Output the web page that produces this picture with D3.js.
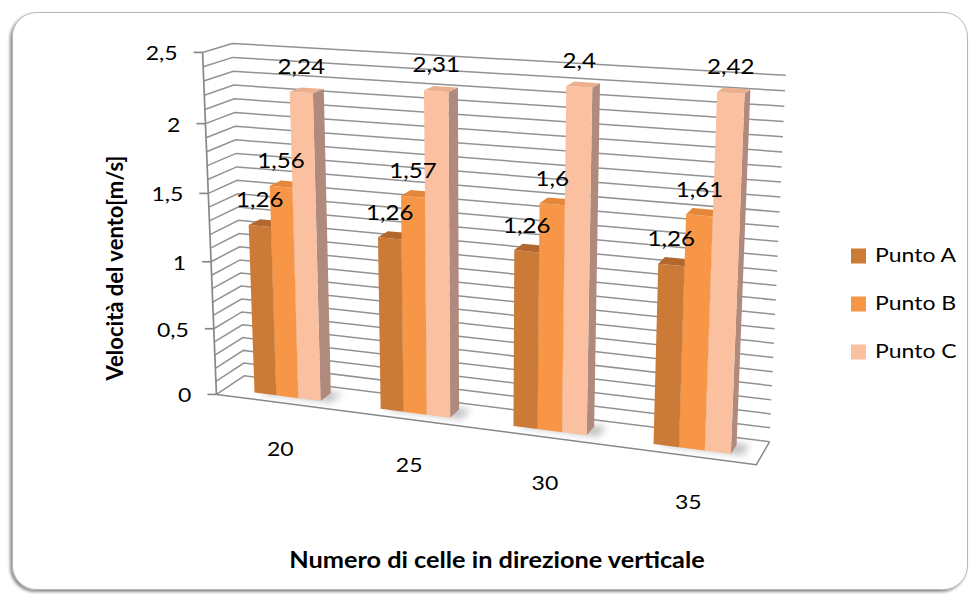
<!DOCTYPE html>
<html>
<head>
<meta charset="utf-8">
<script src="https://cdn.jsdelivr.net/npm/d3@7"></script>
<style>
  body { margin: 0; background: #ffffff; }
  svg { display: block; }
  text { font-family: Lato, "Open Sans", sans-serif; fill: #000; }
</style>
</head>
<body>
<svg id="chart" width="974" height="595"></svg>
<script>
// ---- data ----
const categories = ["20", "25", "30", "35"];
const seriesNames = ["Punto A", "Punto B", "Punto C"];
const puntoA = [1.26, 1.26, 1.26, 1.26];
const puntoB = [1.56, 1.57, 1.6, 1.61];
const puntoC = [2.24, 2.31, 2.4, 2.42];
const yTicks = [0, 0.5, 1, 1.5, 2, 2.5];
const yTitle = "Velocità del vento[m/s]";
const xTitle = "Numero di celle in direzione verticale";

const seriesValues = [puntoA, puntoB, puntoC];
const faceColors = {
  front: ["#CC7A38", "#F79646", "#FAC0A0"],
  top:   ["#B4672C", "#E5873A", "#EDB08F"],
  side:  ["#9C5E2E", "#B97A4C", "#B08A7C"]
};

// Italian number format: decimal comma, no trailing zeros
const italian = d3.formatLocale({ decimal: ",", thousands: ".", grouping: [3], currency: ["", " €"] });
const fmt = italian.format("~g");

// horizontal text is drawn slightly widened, like the rest of the chart
const TEXT_STRETCH = 1.15;
function hText(g, x, y, str, size, anchor, weight) {
  return g.append("text")
    .attr("transform", `translate(${x},${y}) scale(${TEXT_STRETCH},1)`)
    .attr("text-anchor", anchor || "start")
    .attr("dominant-baseline", "middle")
    .attr("font-size", size)
    .attr("font-weight", weight || "normal")
    .text(str);
}

// ---- 3D box (world units) and camera ----
const L = 580, H = 366, D = 64;
const view = { yaw: 20, pitch: 15, focal: 1800, distance: 1800, cx: 483, cy: 245 };
const ry = view.yaw * Math.PI / 180, rx = view.pitch * Math.PI / 180;

function project(X, Y, Z) {
  const xp = X * Math.cos(ry) - Z * Math.sin(ry);
  const zp = -X * Math.sin(ry) - Z * Math.cos(ry);
  const yc = Y * Math.cos(rx) + zp * Math.sin(rx);
  const zc = -Y * Math.sin(rx) + zp * Math.cos(rx) + view.distance;
  return [view.cx + view.focal * xp / zc, view.cy - view.focal * yc / zc];
}

const x = d3.scaleBand().domain(categories).range([-L / 2, L / 2])
  .paddingInner(0.47).paddingOuter(0.22).align(0.55);
const xs = d3.scaleBand().domain(seriesNames).range([0, x.bandwidth()]);
const y = d3.scaleLinear().domain([0, 2.5]).range([-H / 2, H / 2]);
const z = d3.scaleLinear().domain([0, 1]).range([-D / 2, D / 2]); // 0 = back wall, 1 = front edge

const svg = d3.select("#chart");
const defs = svg.append("defs");
defs.append("filter").attr("id", "frameShadow").attr("x", "-5%").attr("y", "-5%").attr("width", "110%").attr("height", "110%")
  .append("feDropShadow").attr("dx", -2).attr("dy", 2).attr("stdDeviation", 1.6)
  .attr("flood-color", "#000").attr("flood-opacity", 0.45);
defs.append("filter").attr("id", "floorShadow").attr("x", "-50%").attr("y", "-50%").attr("width", "200%").attr("height", "200%")
  .append("feGaussianBlur").attr("stdDeviation", 3.5);

// chart frame
svg.append("rect")
  .attr("x", 12.5).attr("y", 12.5).attr("width", 955).attr("height", 577)
  .attr("rx", 24).attr("ry", 24)
  .attr("fill", "#fff").attr("stroke", "#b5b5b5").attr("stroke-width", 1)
  .attr("filter", "url(#frameShadow)");

const line = d3.line();
const poly = pts => line(pts.map(p => project(...p))) + "Z";

// ---- walls: gridlines on the side wall and back wall ----
const grid = svg.append("g").attr("fill", "none").attr("stroke", "#929292").attr("stroke-width", 1.5);
y.ticks(25).forEach(v => {
  grid.append("path").attr("d", line([
    project(-L / 2, y(v), z(1)),
    project(-L / 2, y(v), z(0)),
    project(L / 2, y(v), z(0))
  ]));
});

// floor outline (front and right edges)
svg.append("path")
  .attr("d", line([
    project(-L / 2, y(0), z(1)),
    project(L / 2, y(0), z(1)),
    project(L / 2, y(0), z(0))
  ]))
  .attr("fill", "none").attr("stroke", "#888").attr("stroke-width", 1.5);

// vertical axis line with ticks and labels
const axisG = svg.append("g");
axisG.append("path")
  .attr("d", line([project(-L / 2, y(0), z(1)), project(-L / 2, y(2.5), z(1))]))
  .attr("stroke", "#888").attr("stroke-width", 1.7).attr("fill", "none");
yTicks.forEach(v => {
  const [px, py] = project(-L / 2, y(v), z(1));
  axisG.append("line").attr("x1", px - 9).attr("x2", px).attr("y1", py).attr("y2", py)
    .attr("stroke", "#888").attr("stroke-width", 1.7);
  hText(axisG, px - 25, py + 3, fmt(v), 20, "end");
});

// ---- bars ----
const barDepth = xs.bandwidth();
const zb0 = -barDepth / 2, zb1 = barDepth / 2;

// soft shadow on the floor behind each cluster
const shadowG = svg.append("g").attr("filter", "url(#floorShadow)").attr("opacity", 0.35);
categories.forEach(c => {
  const gx0 = x(c), gx1 = x(c) + x.bandwidth();
  shadowG.append("path").attr("d", poly([
    [gx0 + 6, y(0), zb0 - 4], [gx1 + 12, y(0), zb0 - 4],
    [gx1 + 12, y(0), zb1], [gx0 + 6, y(0), zb1]
  ])).attr("fill", "#555");
});

const barsG = svg.append("g");
categories.forEach((c, ci) => {
  seriesNames.forEach((s, si) => {
    const v = seriesValues[si][ci];
    const x0 = x(c) + xs(s), x1 = x0 + xs.bandwidth();
    const y0 = y(0), y1 = y(v);
    const g = barsG.append("g");
    g.append("path").attr("d", poly([[x1, y0, zb1], [x1, y0, zb0], [x1, y1, zb0], [x1, y1, zb1]]))
      .attr("fill", faceColors.side[si]);
    g.append("path").attr("d", poly([[x0, y0, zb1], [x1, y0, zb1], [x1, y1, zb1], [x0, y1, zb1]]))
      .attr("fill", faceColors.front[si]);
    g.append("path").attr("d", poly([[x0, y1, zb0], [x1, y1, zb0], [x1, y1, zb1], [x0, y1, zb1]]))
      .attr("fill", faceColors.top[si]);
  });
});

// value labels
const labelG = svg.append("g");
categories.forEach((c, ci) => {
  seriesNames.forEach((s, si) => {
    const v = seriesValues[si][ci];
    const xm = x(c) + xs(s) + xs.bandwidth() / 2;
    const [px, py] = project(xm, y(v), zb1);
    hText(labelG, px, py - 24, fmt(v), 21, "middle");
  });
});

// category labels below the floor front edge
const catG = svg.append("g");
categories.forEach(c => {
  const [px, py] = project(x(c) + x.bandwidth() / 2, y(0), z(1));
  hText(catG, px + 1, py + 48, c, 20, "middle");
});

// axis titles
svg.append("text")
  .attr("transform", "translate(117,268) rotate(-90)")
  .attr("text-anchor", "middle").attr("dominant-baseline", "middle")
  .attr("font-size", 22).attr("font-weight", "bold").text(yTitle);
hText(svg, 497, 562, xTitle, 22, "middle", "bold");

// legend
const legend = svg.append("g");
seriesNames.forEach((s, i) => {
  const ly = 256 + i * 48;
  legend.append("rect").attr("x", 851).attr("y", ly - 7.5).attr("width", 15).attr("height", 15)
    .attr("fill", faceColors.front[i]);
  hText(legend, 875, ly + 1, s, 20, "start");
});
</script>
</body>
</html>
